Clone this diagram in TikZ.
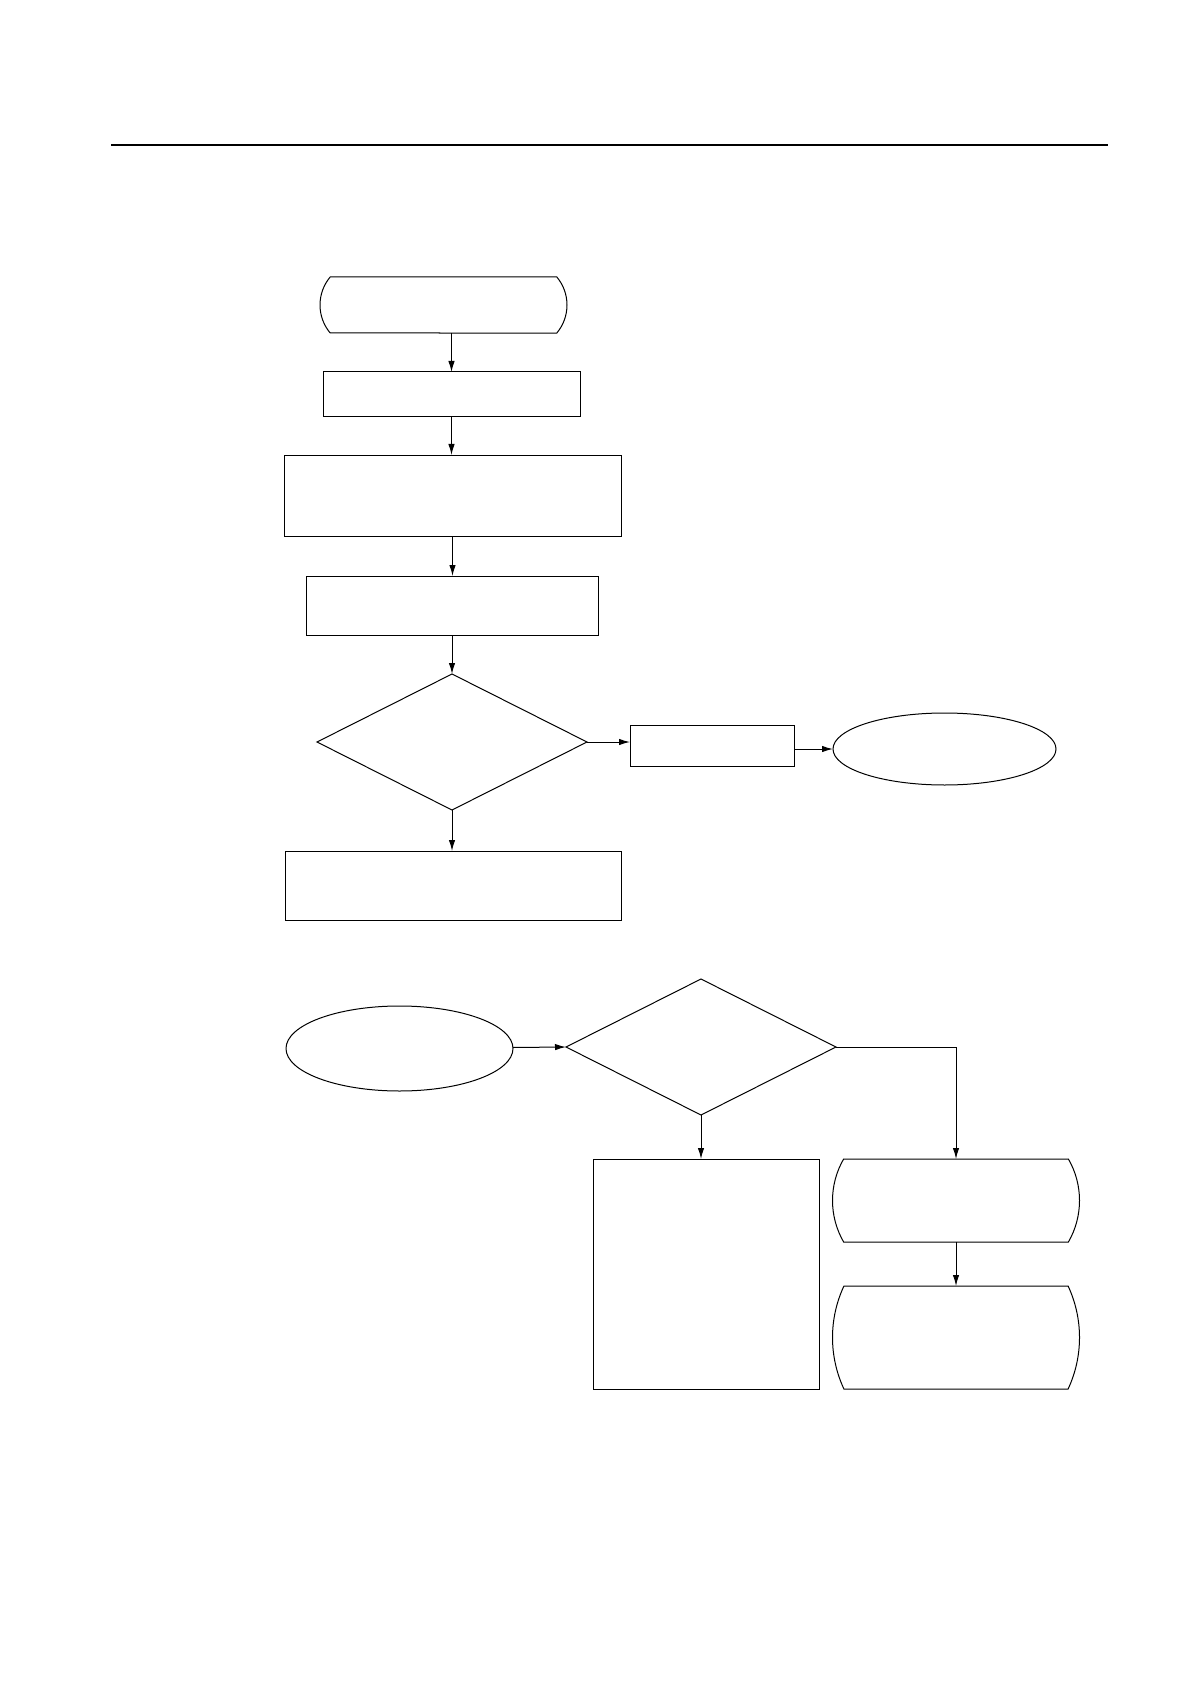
\documentclass[tikz,border=0pt]{standalone}
\usepackage{tikz}
\usetikzlibrary{arrows.meta, shapes.geometric, shapes.misc}

\begin{document}
\begin{tikzpicture}[x=0.5pt,y=-0.5pt,line width=.5pt,
  >={Latex[length=5.5pt,width=3.2pt]},
  every node/.style={draw,inner sep=0pt,outer sep=0pt},
  box/.style={rectangle},
  term/.style={rounded rectangle,rounded rectangle arc length=#1},
  term/.default=70,
  test/.style={diamond,minimum width=135pt,minimum height=68pt},
  oval/.style={ellipse}]
 \useasboundingbox (0,0) rectangle (1190,1684);
 \draw[line width=.8pt] (111,145) -- (1108,145);
 % upper chain
 \node[term=80,minimum width=123.5pt,minimum height=28pt] (start) at (443.5,305) {};
 \node[box,minimum width=128.5pt,minimum height=22.5pt] (init) at (451.5,394.5) {};
 \node[box,minimum width=168.5pt,minimum height=40.5pt] (read) at (452.5,495.5) {};
 \node[box,minimum width=146pt,minimum height=29.5pt] (calc) at (452,605.5) {};
 \node[test] (chk) at (452,742) {};
 \node[box,minimum width=82pt,minimum height=20.5pt] (err) at (712,745.5) {};
 \node[oval,minimum width=111.5pt,minimum height=36pt] (stop) at (944.5,749) {};
 \node[box,minimum width=168pt,minimum height=34.5pt] (save) at (453,885.5) {};
 % lower chain
 \node[oval,minimum width=113.5pt,minimum height=42.5pt] (entry) at (399.5,1048.5) {};
 \node[test] (sel) at (701,1047) {};
 \node[box,minimum width=113pt,minimum height=115pt] (proc) at (706,1274) {};
 \node[term=60,minimum width=123.5pt,minimum height=41.5pt] (out1) at (956,1200.5) {};
 \node[term=50,minimum width=123.5pt,minimum height=51.5pt] (out2) at (956,1337.5) {};
 \draw[->] (start.south -| init.north) -- (init.north);
 \draw[->] (init) -- (init |- read.north);
 \draw[->] (read) -- (read |- calc.north);
 \draw[->] (calc) -- (chk);
 \draw[->] (chk) -- (chk |- save.north);
 \draw[->] (chk.east) -- (chk.east -| err.west);
 \draw[->] (stop.west -| err.east) -- (stop.west);
 \draw[->] (entry) -- (sel.west);
 \draw[->] (sel.south) -- (sel.south |- proc.north);
 \draw[->] (sel.east) -| (out1.north);
 \draw[->] (out1) -- (out2);
\end{tikzpicture}
\end{document}
